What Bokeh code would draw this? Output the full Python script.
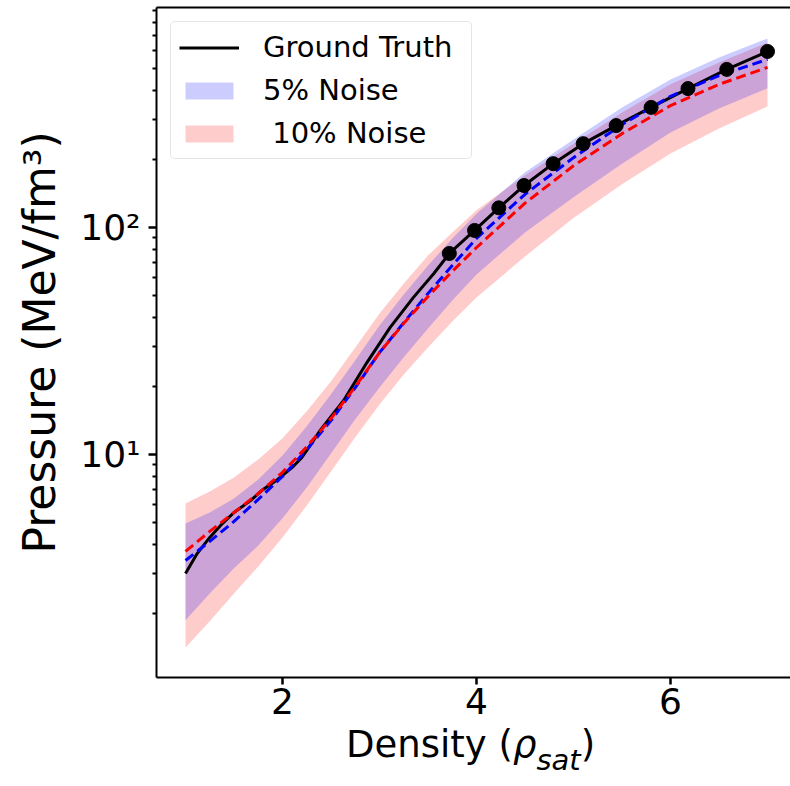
from bokeh.plotting import figure
from bokeh.models import (Range1d, FixedTicker, Legend, LegendItem, LinearAxis, Div,
                          CustomJSTickFormatter)
from bokeh.layouts import column
from bokeh.embed import file_html
from bokeh.resources import INLINE

FONT = "DejaVu Sans"

# ---------------- data ----------------
band_x = [1.0, 1.25, 1.5, 1.75, 2.0, 2.25, 2.5, 2.75, 3.0, 3.25, 3.5, 3.75, 4.0,
          4.5, 5.0, 5.5, 6.0, 6.5, 7.0]

noise5_mean = [3.41, 4.14, 5.07, 6.34, 8.00, 10.5, 14.1, 19.7, 28.1, 38.1, 51.2, 68.0, 89.5,
               140, 203, 284, 378, 467, 550]
noise5_upper = [4.97, 5.55, 6.40, 7.76, 9.90, 13.3, 18.4, 26.0, 37.0, 50.7, 68.0, 89.4, 115,
                175, 244, 338, 449, 561, 680]
noise5_lower = [1.86, 2.44, 3.15, 3.97, 5.23, 7.15, 10.1, 14.3, 19.7, 26.8, 35.9, 47.7, 62.1,
                95.1, 136, 191, 262, 334, 410]

noise10_mean = [3.74, 4.58, 5.55, 6.73, 8.34, 10.8, 14.4, 19.9, 28.1, 37.8, 49.7, 64.0, 81.6,
                128, 187, 259, 344, 427, 507]
noise10_upper = [6.08, 6.87, 7.92, 9.51, 11.8, 15.5, 21.0, 29.6, 41.8, 56.6, 75.3, 95.1, 119,
                 170, 234, 321, 427, 533, 653]
noise10_lower = [1.41, 1.84, 2.44, 3.21, 4.31, 5.96, 8.42, 11.9, 16.6, 22.5, 29.6, 38.5, 49.2,
                 74.5, 110, 155, 212, 273, 341]

truth_x = [1.00, 1.12, 1.25, 1.38, 1.50, 1.67, 1.80, 1.95, 2.11, 2.20, 2.30, 2.39, 2.63,
           2.87, 3.11, 3.35, 3.56]
truth_y = [2.99, 3.66, 4.31, 4.96, 5.55, 6.26, 7.01, 7.76, 8.85, 9.70, 11.2, 12.8, 17.3,
           25.4, 36.3, 49.2, 62.7]

points_x = [3.72, 3.98, 4.23, 4.49, 4.79, 5.10, 5.44, 5.80, 6.18, 6.58, 7.00]
points_y = [76.8, 97.0, 122, 153, 191, 234, 281, 338, 409, 497, 596]

x_ticks = [2, 4, 6]
y_major_ticks = [10, 100]
y_tick_labels = ["10\u00b9", "10\u00b2"]
y_minor_ticks = [2, 3, 4, 5, 6, 7, 8, 9, 20, 30, 40, 50, 60, 70, 80, 90,
                 200, 300, 400, 500, 600, 700, 800, 900]

legend_labels = ["Ground Truth", "5% Noise", " 10% Noise"]
y_label = "Pressure (MeV/fm\u00b3)"
x_label_parts = ["Density (", "\u03c1", "sat", ")"]

# ---------------- figure ----------------
p = figure(width=790, height=735,
           x_range=Range1d(0.701, 7.237), y_range=Range1d(1.041, 931),
           y_axis_type="log", output_backend="svg", toolbar_location=None,
           min_border_left=156, min_border_right=0, min_border_top=7,
           min_border_bottom=58)
p.outline_line_color = None
p.xgrid.visible = False
p.ygrid.visible = False
p.background_fill_color = "white"
p.border_fill_color = "white"

red_band = p.varea(x=band_x, y1=noise10_lower, y2=noise10_upper,
                   fill_color="red", fill_alpha=0.2)
blue_band = p.varea(x=band_x, y1=noise5_lower, y2=noise5_upper,
                    fill_color="blue", fill_alpha=0.2)
gt_line = p.line(truth_x + points_x, truth_y + points_y, line_color="black", line_width=3)
p.line(band_x, noise5_mean, line_color="blue", line_width=3, line_dash="10 5")
p.line(band_x, noise10_mean, line_color="red", line_width=3, line_dash="10 5")
p.scatter(points_x, points_y, size=14, fill_color="black", line_color="black")

# ---------------- axes ----------------
xa = p.xaxis[0]
xa.ticker = FixedTicker(ticks=x_ticks)
xa.minor_tick_line_color = None
xa.major_tick_in = 0
xa.major_tick_out = 7
xa.major_tick_line_width = 2.5
xa.axis_line_width = 2
xa.major_label_text_font = FONT
xa.major_label_text_font_size = "36px"
xa.major_label_text_color = "black"
xa.major_label_standoff = 3

ya = p.yaxis[0]
ya.ticker = FixedTicker(ticks=y_major_ticks, minor_ticks=y_minor_ticks)
ya.formatter = CustomJSTickFormatter(
    args=dict(major=y_major_ticks, names=y_tick_labels),
    code="const i = major.indexOf(tick); return i >= 0 ? names[i] : '';")
ya.major_tick_in = 0
ya.major_tick_out = 8
ya.major_tick_line_width = 2.5
ya.minor_tick_in = 0
ya.minor_tick_out = 4
ya.minor_tick_line_width = 2
ya.axis_line_width = 2
ya.major_label_text_font = FONT
ya.major_label_text_font_size = "36px"
ya.major_label_text_color = "black"
ya.major_label_standoff = 8
ya.axis_label = y_label
ya.axis_label_text_font = FONT
ya.axis_label_text_font_size = "44px"
ya.axis_label_text_font_style = "normal"
ya.axis_label_text_color = "black"
ya.axis_label_standoff = 12

top = LinearAxis(ticker=FixedTicker(ticks=[]), major_tick_in=0, major_tick_out=0,
                 minor_tick_in=0, minor_tick_out=0, axis_line_width=2,
                 major_label_text_font_size="0px", major_label_standoff=0)
p.add_layout(top, "above")

# ---------------- legend ----------------
legend = Legend(items=[LegendItem(label=legend_labels[0], renderers=[gt_line]),
                       LegendItem(label=legend_labels[1], renderers=[blue_band]),
                       LegendItem(label=legend_labels[2], renderers=[red_band])],
                location="top_left")
legend.label_text_font = FONT
legend.label_text_font_size = "29px"
legend.label_text_color = "black"
legend.glyph_width = 60
legend.glyph_height = 21
legend.label_standoff = 24
legend.label_width = 200
legend.spacing = 9
legend.padding = 8
legend.margin = 14
legend.border_line_color = "#cccccc"
legend.border_line_width = 1
legend.background_fill_alpha = 0.8
try:
    legend.border_radius = 5
except Exception:
    pass
p.add_layout(legend)

# ---------------- x-axis title (italic rho with subscript) ----------------
x_title_html = (
    '<div style="position:relative; left:346px; top:-9px; white-space:nowrap; '
    "font-family:'DejaVu Sans'; font-size:37px; line-height:37px; color:black;\">"
    + x_label_parts[0]
    + "<i>" + x_label_parts[1] + "</i>"
    + '<i style="font-size:29px; position:relative; top:13px;">' + x_label_parts[2] + "</i>"
    + x_label_parts[3] + "</div>"
)
x_title = Div(text=x_title_html, width=790, height=51, margin=(0, 0, 0, 0))

layout = column(p, x_title, spacing=0)

open("out.html", "w").write(file_html(layout, INLINE))
